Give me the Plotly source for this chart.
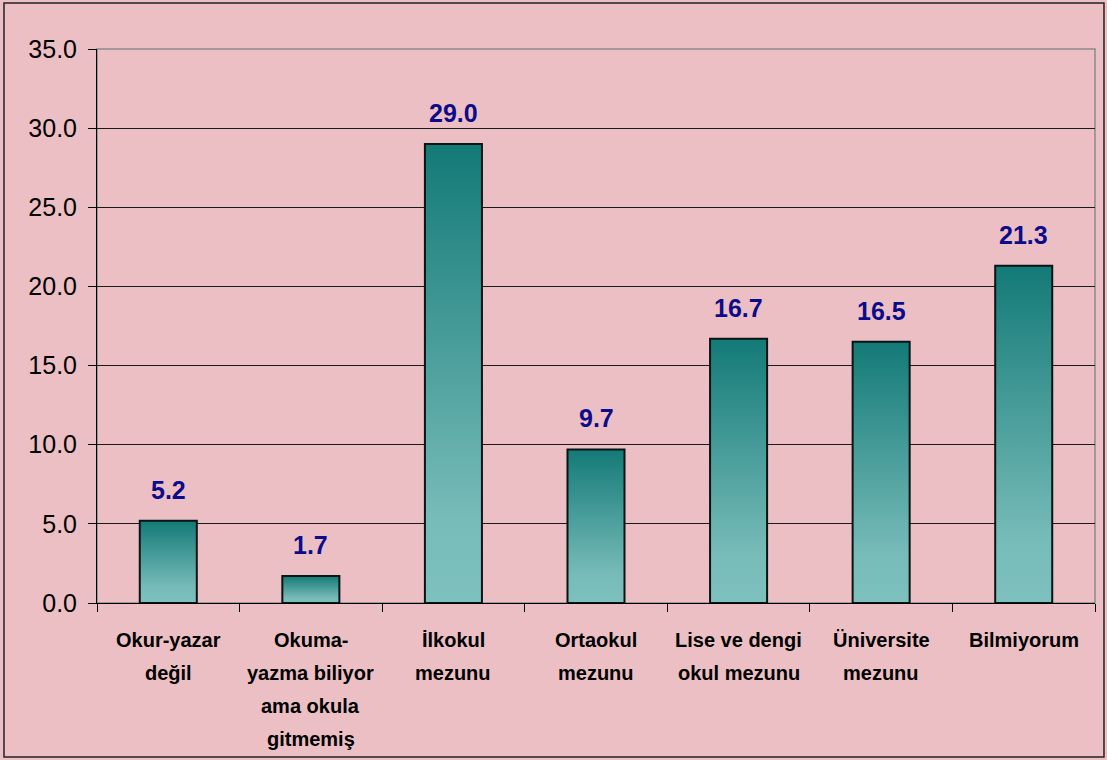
import plotly.graph_objects as go

# kategori etiketleri (satır satır) ve yüzde değerleri
kategoriler = [
    ["Okur-yazar", "değil"],
    ["Okuma-", "yazma biliyor", "ama okula", "gitmemiş"],
    ["İlkokul", "mezunu"],
    ["Ortaokul", "mezunu"],
    ["Lise ve dengi", "okul mezunu"],
    ["Üniversite", "mezunu"],
    ["Bilmiyorum"],
]
degerler = [5.2, 1.7, 29.0, 9.7, 16.7, 16.5, 21.3]
y_ticks = [0, 5, 10, 15, 20, 25, 30, 35]

FONT = "Liberation Sans, Arial, sans-serif"
PEMBE = "rgb(236,191,196)"
gradyan = [[0, "#7DC0BD"], [0.18, "#78BCB9"], [1, "#137A77"]]
yarim = 0.2

fig = go.Figure()

for i, v in enumerate(degerler):
    fig.add_trace(go.Scatter(
        x=[i - yarim, i + yarim, i + yarim, i - yarim, i - yarim],
        y=[0, 0, v, v, 0],
        mode="lines",
        fill="toself",
        fillgradient=dict(type="vertical", colorscale=gradyan),
        line=dict(color="#0a1414", width=2),
        hoverinfo="skip",
        showlegend=False,
    ))

# değer etiketleri
for i, v in enumerate(degerler):
    fig.add_annotation(
        x=i, y=v, text=f"<b>{v:.1f}</b>", showarrow=False,
        yanchor="middle", yshift=31,
        font=dict(family=FONT, size=25, color="#0C0C8A"),
    )

# kategori etiketleri
for i, satirlar in enumerate(kategoriler):
    for j, s in enumerate(satirlar):
        fig.add_annotation(
            x=i, xref="x", y=0, yref="paper", text=f"<b>{s}</b>",
            showarrow=False, yanchor="top", yshift=-24 - 33 * j,
            font=dict(family=FONT, size=20, color="black"),
        )

n = len(degerler)
fig.update_xaxes(
    range=[-0.5, n - 0.5],
    tickvals=[k - 0.5 for k in range(n + 1)],
    showticklabels=False,
    ticks="outside", ticklen=8, tickcolor="black",
    showgrid=False, zeroline=False,
    showline=True, linecolor="black", linewidth=1,
)
fig.update_yaxes(
    range=[0, 35],
    tickvals=y_ticks,
    tickformat=".1f",
    ticks="outside", ticklen=8, tickcolor="black",
    ticklabelstandoff=6,
    tickfont=dict(family=FONT, size=25, color="black"),
    showgrid=True, gridcolor="#1a1a1a", gridwidth=1,
    zeroline=False,
    showline=True, linecolor="black", linewidth=1,
)

# çizim alanı çerçevesi ve dış çerçeve
fig.add_shape(type="rect", xref="paper", yref="paper", x0=0, x1=1, y0=0, y1=1,
              line=dict(color="#8a8a8a", width=1.5), layer="below")
fig.add_shape(type="rect", xref="paper", yref="paper",
              x0=-0.0932, x1=1.009, y0=-0.278, y1=1.083,
              line=dict(color="#222", width=1.5))

fig.update_layout(
    width=1107, height=760,
    margin=dict(l=97, r=12, t=49, b=157),
    paper_bgcolor=PEMBE,
    plot_bgcolor=PEMBE,
    font=dict(family=FONT),
    showlegend=False,
)

fig.write_html("out.html", config={"displayModeBar": False},
               post_script="document.body.style.margin='0';")
